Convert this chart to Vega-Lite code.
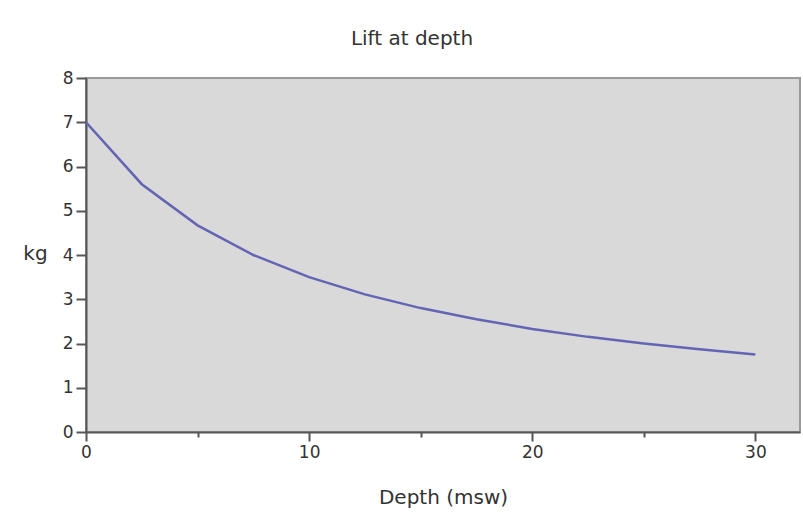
{
  "$schema": "https://vega.github.io/schema/vega-lite/v6.json",
  "autosize": "none",
  "width": 714,
  "height": 354,
  "padding": {"left": 86, "top": 78, "right": 3, "bottom": 91},
  "background": "white",
  "title": {
    "text": "Lift at depth",
    "font": "DejaVu Sans",
    "fontSize": 20,
    "fontWeight": "normal",
    "color": "#333333",
    "frame": "group",
    "anchor": "middle",
    "dx": -31,
    "offset": 20
  },
  "config": {
    "view": {"fill": "#d9d9d9", "stroke": "#9a9a9a", "strokeWidth": 2},
    "axis": {
      "labelFont": "DejaVu Sans",
      "labelFontSize": 17,
      "labelColor": "#333333",
      "titleFont": "DejaVu Sans",
      "titleFontSize": 20,
      "titleFontWeight": "normal",
      "titleColor": "#333333",
      "domainColor": "#555555",
      "domainWidth": 2,
      "tickColor": "#555555",
      "tickWidth": 2,
      "grid": false
    }
  },
  "data": {
    "values": [
      {"depth": 0, "lift": 7.0},
      {"depth": 2.5, "lift": 5.6},
      {"depth": 5, "lift": 4.67},
      {"depth": 7.5, "lift": 4.0},
      {"depth": 10, "lift": 3.5},
      {"depth": 12.5, "lift": 3.11},
      {"depth": 15, "lift": 2.8},
      {"depth": 17.5, "lift": 2.55},
      {"depth": 20, "lift": 2.33},
      {"depth": 22.5, "lift": 2.15},
      {"depth": 25, "lift": 2.0},
      {"depth": 27.5, "lift": 1.87},
      {"depth": 30, "lift": 1.75}
    ]
  },
  "resolve": {"axis": {"x": "independent"}},
  "layer": [
    {
      "mark": {"type": "line", "color": "#6464b4", "strokeWidth": 2.5},
      "encoding": {
        "x": {
          "field": "depth",
          "type": "quantitative",
          "scale": {"domain": [0, 32], "nice": false, "zero": false},
          "axis": {
            "title": "Depth (msw)",
            "orient": "bottom",
            "values": [0, 10, 20, 30],
            "tickSize": 9,
            "labelPadding": 3,
            "titlePadding": 27,
            "labelFlush": false
          }
        },
        "y": {
          "field": "lift",
          "type": "quantitative",
          "scale": {"domain": [0, 8], "nice": false},
          "axis": {
            "title": "kg",
            "values": [0, 1, 2, 3, 4, 5, 6, 7, 8],
            "tickSize": 10,
            "labelPadding": 3,
            "titleAngle": 0,
            "titleAlign": "center",
            "titleBaseline": "middle",
            "titleX": -51,
            "titleY": 175,
            "labelFlush": false
          }
        }
      }
    },
    {
      "mark": {"type": "line", "strokeOpacity": 0},
      "encoding": {
        "x": {
          "field": "depth",
          "type": "quantitative",
          "axis": {
            "title": null,
            "orient": "bottom",
            "values": [5, 15, 25],
            "labels": false,
            "domain": false,
            "tickSize": 5
          }
        },
        "y": {"field": "lift", "type": "quantitative"}
      }
    }
  ]
}
